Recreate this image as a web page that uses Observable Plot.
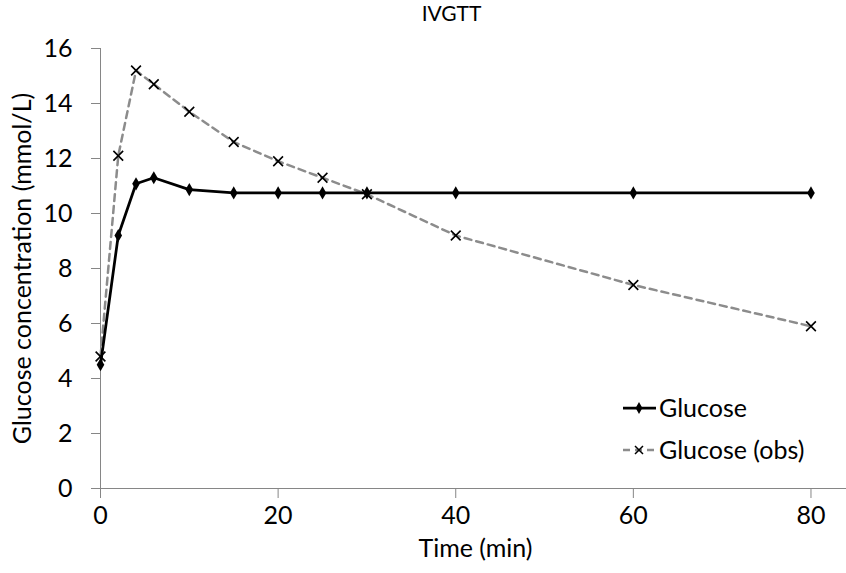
<!DOCTYPE html>
<html>
<head>
<meta charset="utf-8">
<script src="https://cdn.jsdelivr.net/npm/d3@7"></script>
<script src="https://cdn.jsdelivr.net/npm/@observablehq/plot@0.6"></script>
<style>
  html, body { margin: 0; padding: 0; background: #fff; }
  #wrap { position: relative; width: 846px; height: 573px; }
  #legend { position: absolute; left: 0; top: 0; pointer-events: none; }
  svg { font-family: Lato, "Open Sans", sans-serif; }
</style>
</head>
<body>
<div id="wrap"></div>
<script>
const times = [0, 2, 4, 6, 10, 15, 20, 25, 30, 40, 60, 80];
const glucoseModel = [4.5, 9.2, 11.08, 11.3, 10.87, 10.75, 10.75, 10.75, 10.75, 10.75, 10.75, 10.75];
const glucoseObs = [4.8, 12.1, 15.2, 14.7, 13.7, 12.6, 11.9, 11.3, 10.7, 9.2, 7.4, 5.9];
const xTicks = [0, 20, 40, 60, 80];
const yTicks = [0, 2, 4, 6, 8, 10, 12, 14, 16];
const seriesNames = ["Glucose", "Glucose (obs)"];
const titleText = "IVGTT";
const xLabel = "Time (min)";
const yLabel = "Glucose concentration (mmol/L)";

const model = times.map((t, i) => ({t, v: glucoseModel[i]}));
const obs = times.map((t, i) => ({t, v: glucoseObs[i]}));

const axisGray = "#868686";
const font = "Lato, 'Open Sans', sans-serif";

const chart = Plot.plot({
  width: 846,
  height: 573,
  marginTop: 48,
  marginBottom: 85,
  marginLeft: 100,
  marginRight: 0,
  style: {fontFamily: font, fontSize: "25px", color: "#000", background: "#fff"},
  x: {domain: [0, 84], label: null},
  y: {domain: [0, 16], label: null},
  marks: [
    Plot.axisY({ticks: yTicks, tickSize: 9, tickPadding: 19, stroke: axisGray, fontSize: 25, label: null}),
    Plot.axisX({ticks: xTicks, tickSize: 10, tickPadding: 8, stroke: axisGray, fontSize: 25, label: null}),
    Plot.ruleX([0], {stroke: axisGray, strokeWidth: 1}),
    Plot.ruleY([0], {stroke: axisGray, strokeWidth: 1}),
    Plot.line(obs, {x: "t", y: "v", stroke: "#8c8c8c", strokeWidth: 2.5, strokeDasharray: "7,5"}),
    Plot.dot(obs, {x: "t", y: "v", symbol: "times", r: 4.5, stroke: "#000", strokeWidth: 1.6}),
    Plot.line(model, {x: "t", y: "v", stroke: "#000", strokeWidth: 2.75}),
    Plot.dot(model, {x: "t", y: "v", symbol: "diamond", r: 4, fill: "#000", stroke: "none"}),
    Plot.text([titleText], {frameAnchor: "top", dx: -22, dy: -42, fontSize: 21, fill: "#000"}),
    Plot.text([xLabel], {frameAnchor: "bottom", dx: 2, dy: 68, fontSize: 25, fill: "#000"}),
    Plot.text([yLabel], {frameAnchor: "left", textAnchor: "middle", dx: -78, rotate: -90, fontSize: 25, fill: "#000"})
  ]
});

const wrap = document.getElementById("wrap");
wrap.appendChild(chart);

// Legend overlay
const leg = d3.select(wrap).append("svg")
  .attr("id", "legend")
  .attr("width", 846).attr("height", 573)
  .style("font-family", font);

const rows = [
  {name: seriesNames[0], y: 408, stroke: "#000", dash: null, sw: 2.75, marker: "diamond"},
  {name: seriesNames[1], y: 450, stroke: "#8c8c8c", dash: "7,5", sw: 2.5, marker: "times"}
];
rows.forEach(r => {
  leg.append("line")
    .attr("x1", 623).attr("x2", 656).attr("y1", r.y).attr("y2", r.y)
    .attr("stroke", r.stroke).attr("stroke-width", r.sw)
    .attr("stroke-dasharray", r.dash);
  if (r.marker === "diamond") {
    leg.append("path").attr("transform", `translate(639,${r.y})`)
      .attr("d", d3.symbol(d3.symbolDiamond, 40)())
      .attr("fill", "#000");
  } else {
    leg.append("path").attr("transform", `translate(639,${r.y})`)
      .attr("d", "M-4,-4L4,4M-4,4L4,-4")
      .attr("stroke", "#000").attr("stroke-width", 1.5).attr("fill", "none");
  }
  leg.append("text").attr("x", 659).attr("y", r.y).attr("dy", "0.35em")
    .attr("font-size", 25).attr("fill", "#000").text(r.name);
});
</script>
</body>
</html>
